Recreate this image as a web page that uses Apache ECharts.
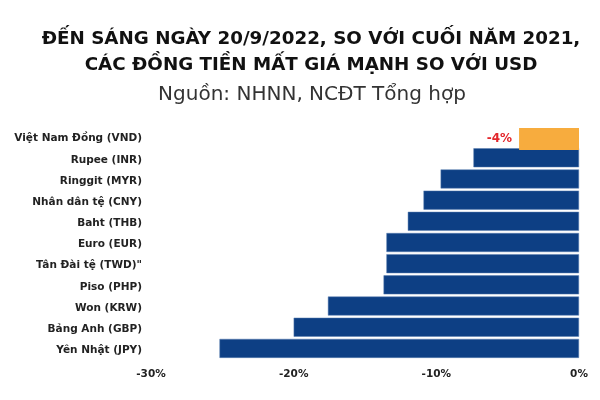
<!DOCTYPE html>
<html>
<head>
<meta charset="utf-8">
<script src="https://cdn.jsdelivr.net/npm/echarts@6/dist/echarts.min.js"></script>
<style>html,body{margin:0;padding:0;background:#fff}#c{width:600px;height:400px}</style>
</head>
<body>
<div id="c"></div>
<script>
var categories = ['Việt Nam Đồng (VND)','Rupee (INR)','Ringgit (MYR)','Nhân dân tệ (CNY)','Baht (THB)','Euro (EUR)','Tân Đài tệ (TWD)"','Piso (PHP)','Won (KRW)','Bảng Anh (GBP)','Yên Nhật (JPY)'];
var values = [-4.2, -7.4, -9.7, -10.9, -12.0, -13.5, -13.5, -13.7, -17.6, -20.0, -25.2];
var highlightIndex = 0;
var highlightLabel = '-4%';
var xTicks = [-30, -20, -10, 0];

var navyData = values.map(function(v,i){ return i === highlightIndex ? null : v; });
var orangeData = values.map(function(v,i){ return i === highlightIndex ? v : null; });

var FONT = 'DejaVu Sans';
var chart = echarts.init(document.getElementById('c'));
chart.setOption({
  animation: false,
  title: [{
    text: 'ĐẾN SÁNG NGÀY 20/9/2022, SO VỚI CUỐI NĂM 2021,\nCÁC ĐỒNG TIỀN MẤT GIÁ MẠNH SO VỚI USD',
    left: 311, top: 26, padding: 0, textAlign: 'center',
    textStyle: {fontFamily: FONT, fontWeight: 'bold', fontSize: 18.3, lineHeight: 26, color: '#111'}
  },{
    text: 'Nguồn: NHNN, NCĐT Tổng hợp',
    left: 312, top: 85, padding: 0, textAlign: 'center',
    textStyle: {fontFamily: FONT, fontWeight: 'normal', fontSize: 20, color: '#333'}
  }],
  grid: {left: 151, right: 21, top: 128, bottom: 39, containLabel: false},
  xAxis: {
    type: 'value', min: -30, max: 0, interval: 10,
    axisLine: {show: false}, axisTick: {show: false}, splitLine: {show: false},
    axisLabel: {formatter: function(v){ return v + '%'; }, fontFamily: FONT, fontWeight: 'bold', fontSize: 10.5, color: '#222', margin: 8}
  },
  yAxis: {
    type: 'category', data: categories, inverse: true,
    axisLine: {show: false}, axisTick: {show: false},
    axisLabel: {fontFamily: FONT, fontWeight: 'bold', fontSize: 10.5, color: '#222', margin: 9}
  },
  series: [{
    type: 'bar', data: navyData, barWidth: 19, barGap: '-100%',
    itemStyle: {color: '#0d3f84', borderColor: '#5b7fb0', borderWidth: 0.5}
  },{
    type: 'bar', data: orangeData, barWidth: 23,
    itemStyle: {color: '#f7ac3e'},
    label: {show: true, position: 'left', distance: 7, formatter: function(){ return highlightLabel; }, fontFamily: FONT, fontWeight: 'bold', fontSize: 12, color: '#e3262b'}
  }]
});
</script>
</body>
</html>
